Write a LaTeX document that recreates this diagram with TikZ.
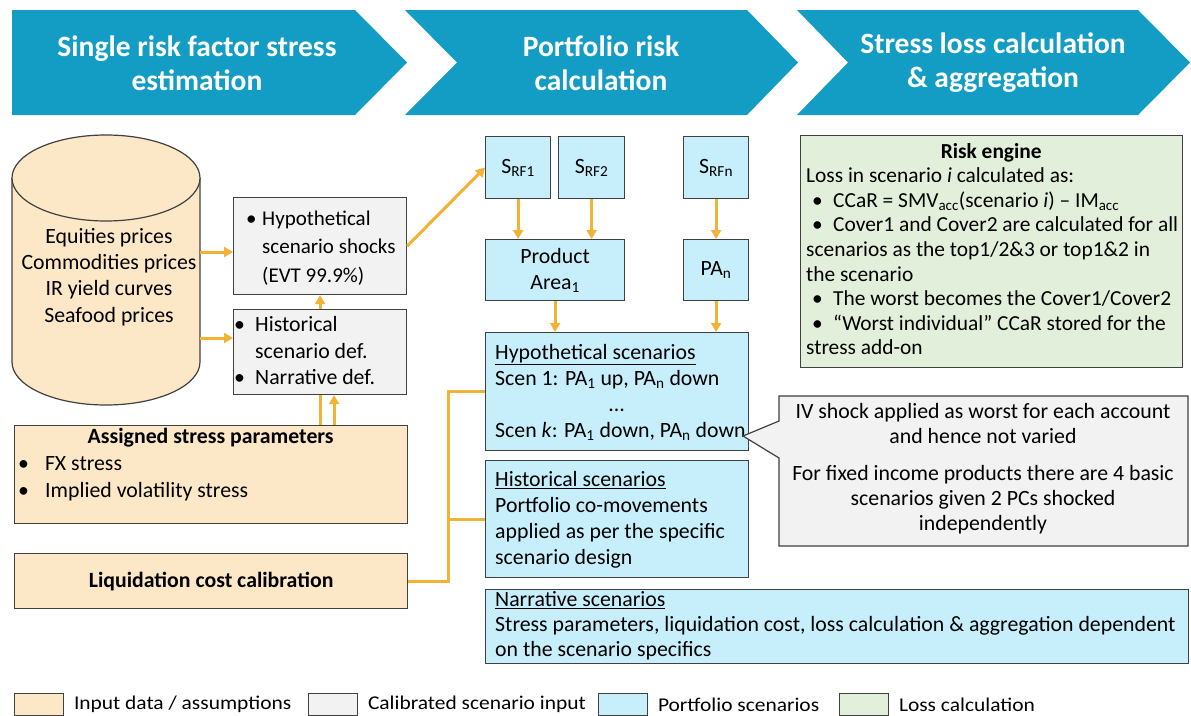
\documentclass[tikz,border=0pt]{standalone}
\usepackage{fontspec}
\setmainfont{Carlito}
\usepackage{xcolor}
\usepackage{graphicx}
\usepackage{tikz}
\usetikzlibrary{arrows.meta,positioning}

\definecolor{headblue}{HTML}{149DC4}
\definecolor{inpeach}{HTML}{FCE8C7}
\definecolor{calgray}{HTML}{F2F2F2}
\definecolor{portblue}{HTML}{C6EEFB}
\definecolor{lossgreen}{HTML}{E2EFDA}
\definecolor{flowgold}{HTML}{F2B233}
\definecolor{edgegray}{HTML}{404040}

\newcommand{\bodyfont}[1][26]{\fontsize{21.8}{#1}\selectfont}
\newcommand{\bul}[2][0pt]{\hspace*{#1}\makebox[#2][l]{\textbullet}}
\newcommand{\legtext}[1]{\scalebox{1.1}[1]{#1}}

\begin{document}
\begin{tikzpicture}[x=1pt,y=-1pt,
  box/.style={draw=edgegray, line width=1.2pt, inner sep=0pt, anchor=north west},
  inbox/.style={box, fill=inpeach},
  calbox/.style={box, fill=calgray},
  portbox/.style={box, fill=portblue},
  lossbox/.style={box, fill=lossgreen},
  flow/.style={draw=flowgold, line width=3pt, -{Triangle[length=9pt,width=10pt]}},
  flowline/.style={draw=flowgold, line width=3pt},
  head/.style={text=white, align=center, inner sep=0pt, font=\fontsize{29.5}{34}\selectfont\bfseries},
  txt/.style={inner sep=0pt, font=\bodyfont},
  legbox/.style={box, line width=0.8pt, minimum width=49pt, minimum height=22pt},
  legtxt/.style={inner sep=0pt, font=\fontsize{19.5}{22}\selectfont}]
\useasboundingbox (0,0) rectangle (1191,715);
\fill[white] (0,0) rectangle (1191,715);

\fill[headblue] (12,10) -- (355,10) -- (407,62.5) -- (355,115) -- (12,115) -- cycle;
\fill[headblue] (405,10) -- (747,10) -- (798,62.5) -- (747,115) -- (405,115) -- (457,62.5) -- cycle;
\fill[headblue] (797,10) -- (1138,10) -- (1190,62.5) -- (1138,115) -- (797,115) -- (848,62.5) -- cycle;
\node[head] (stageA) at (197,63) {Single risk factor stress\\estimation};
\node[head] (stageB) at (601,63) {Portfolio risk\\calculation};
\node[head] (stageC) at (993,63) {Stress loss calculation\\\& aggregation};

\filldraw[draw=edgegray, fill=inpeach, line width=1.2pt] (12,178) -- (12,362) arc[start angle=180, end angle=0, x radius=94, y radius=43] -- (200,178);
\filldraw[draw=edgegray, fill=inpeach, line width=1.2pt] (106,178) ellipse [x radius=94, y radius=43];
\node[txt, align=center, font={\bodyfont[26.3]}] (prices) at (109,277) {Equities prices\\Commodities prices\\IR yield curves\\Seafood prices};
\coordinate (pricesA) at (200,252);
\coordinate (pricesB) at (200,338);

\node[calbox, minimum width=173pt, minimum height=97pt] (hypshock) at (233,197) {};
\node[txt, anchor=west, align=left, font={\fontsize{21}{28.5}\selectfont}] (hypshockT) at (246,248) {\bul{16pt}Hypothetical\\\hspace*{16pt}scenario shocks\\\hspace*{16pt}(EVT 99.9\%)};
\node[calbox, minimum width=173pt, minimum height=85pt] (histdef) at (233,309) {};
\node[txt, anchor=west, align=left, font={\bodyfont[26.5]}] (histdefT) at (234,351) {\bul{21pt}Historical\\\hspace*{21pt}scenario def.\\\bul{21pt}Narrative def.};

\node[inbox, minimum width=393pt, minimum height=98pt] (assigned) at (14,425) {};
\node[txt, anchor=west, align=left, font={\bodyfont[27]}] (assignedT) at (18,465) {\makebox[385pt]{\bfseries Assigned stress parameters}\\\bul{27pt}FX stress\\\bul{27pt}Implied volatility stress};
\node[inbox, minimum width=393pt, minimum height=55pt, font=\bodyfont\bfseries] (liquid) at (14,553) {Liquidation cost calibration};

\node[portbox, minimum width=65pt, minimum height=62pt, font=\bodyfont] (srfA) at (485,136) {S\textsubscript{RF1}};
\node[portbox, minimum width=66pt, minimum height=62pt, font=\bodyfont] (srfB) at (558,136) {S\textsubscript{RF2}};
\node[portbox, minimum width=65pt, minimum height=62pt, font=\bodyfont] (srfN) at (683,136) {S\textsubscript{RFn}};
\node[portbox, minimum width=139pt, minimum height=61pt, align=center, font={\bodyfont[26]}] (areaA) at (485,239) {Product\\Area\textsubscript{1}};
\node[portbox, minimum width=65pt, minimum height=61pt, font=\bodyfont] (areaN) at (683,239) {PA\textsubscript{n}};

\node[portbox, minimum width=263pt, minimum height=118pt] (hyposc) at (485,332) {};
\node[txt, anchor=west, align=left] (hyposcT) at (495,392) {\underline{Hypothetical scenarios}\\Scen 1: PA\textsubscript{1} up, PA\textsubscript{n} down\\\makebox[243pt]{...}\\Scen \textit{k}: PA\textsubscript{1} down, PA\textsubscript{n} down};
\node[portbox, minimum width=263pt, minimum height=117pt] (histsc) at (485,460) {};
\node[txt, anchor=west, align=left] (histscT) at (495,520) {\underline{Historical scenarios}\\Portfolio co-movements\\applied as per the specific\\scenario design};
\node[portbox, minimum width=703pt, minimum height=74pt] (narrsc) at (485,589) {};
\node[txt, anchor=west, align=left, font={\bodyfont[25]}] (narrscT) at (495,626) {\underline{Narrative scenarios}\\Stress parameters, liquidation cost, loss calculation \& aggregation dependent\\on the scenario specifics};

\node[lossbox, minimum width=382pt, minimum height=232pt] (engine) at (800,135) {};
\node[txt, anchor=west, align=left, font={\fontsize{21.4}{24.6}\selectfont}] (engineT) at (806,249) {\makebox[370pt]{\bfseries Risk engine}\\Loss in scenario \textit{i} calculated as:\\\bul[6pt]{21pt}CCaR = SMV\textsubscript{acc}(scenario \textit{i}) -- IM\textsubscript{acc}\\\bul[6pt]{21pt}Cover1 and Cover2 are calculated for all\\scenarios as the top1/2\&3 or top1\&2 in\\the scenario\\\bul[6pt]{21pt}The worst becomes the Cover1/Cover2\\\bul[6pt]{21pt}``Worst individual'' CCaR stored for the\\stress add-on};

\filldraw[draw=edgegray, fill=calgray, line width=1.2pt] (779,396) -- (1188,396) -- (1188,546) -- (779,546) -- (779,458) -- (743,436) -- (779,421) -- cycle;
\node[txt, align=center, font={\bodyfont[25]}] (ivnote) at (983,469) {IV shock applied as worst for each account\\and hence not varied\\[12pt]For fixed income products there are 4 basic\\scenarios given 2 PCs shocked\\independently};

\draw[flow] (pricesA) -- (pricesA -| hypshock.west);
\draw[flow] (pricesB) -- (pricesB -| histdef.west);
\draw[flow] (histdef.north) -- (hypshock.south);
\draw[flowline] (histdef.south) -- (histdef.south |- assigned.north);
\draw[flow] ([xshift=14pt]histdef.south |- assigned.north) -- ([xshift=14pt]histdef.south);
\draw[flow] (hypshock.east) -- (srfA.west);
\draw[flow] (srfA.south) -- (srfA.south |- areaA.north);
\draw[flow] (srfB.south) -- (srfB.south |- areaA.north);
\draw[flow] (srfN.south) -- (areaN.north);
\draw[flow] (areaA.south) -- (areaA.south |- hyposc.north);
\draw[flow] (areaN.south) -- (areaN.south |- hyposc.north);
\coordinate (bus) at (448,0);
\draw[flowline] (liquid.east) -| (bus |- hyposc.west) -- (hyposc.west);
\draw[flowline] (bus |- histsc.west) -- (histsc.west);

\node[legbox, fill=inpeach] (legA) at (14,693) {};
\node[legtxt, right=10pt of legA] (legAT) {\legtext{Input data / assumptions}};
\node[legbox, fill=calgray] (legB) at (308,693) {};
\node[legtxt, right=10pt of legB] (legBT) {\legtext{Calibrated scenario input}};
\node[legbox, fill=portblue] (legC) at (598,693) {};
\node[legtxt, right=10pt of legC] (legCT) {\legtext{Portfolio scenarios}};
\node[legbox, fill=lossgreen] (legD) at (839,693) {};
\node[legtxt, right=10pt of legD] (legDT) {\legtext{Loss calculation}};
\end{tikzpicture}
\end{document}
